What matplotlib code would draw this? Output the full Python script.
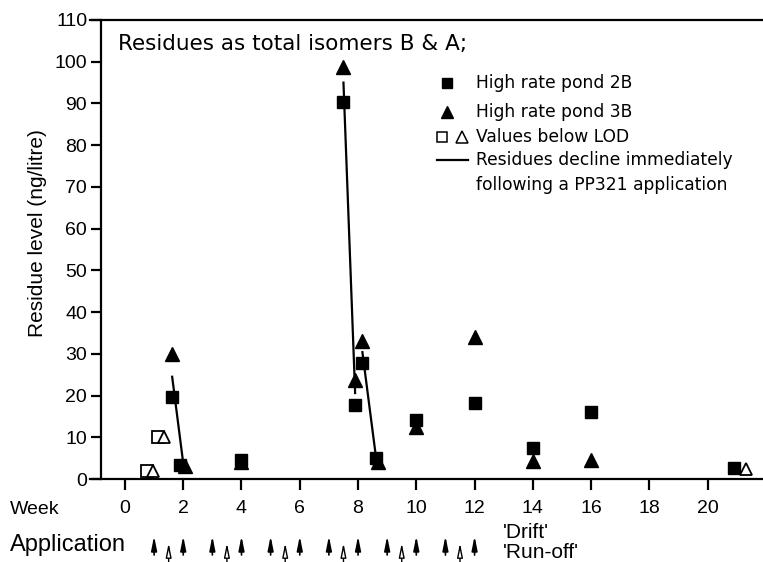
import matplotlib
matplotlib.use('Agg')
import matplotlib.pyplot as plt
from matplotlib.lines import Line2D

plt.rcParams['font.family'] = ['Liberation Sans', 'DejaVu Sans']

# values (week, ng/litre)
pond2b_week = [1.6, 1.9, 4.0, 7.5, 7.9, 8.15, 8.6, 10, 12, 14, 16, 20.9]
pond2b_val = [19.7, 3.4, 4.5, 90.4, 17.7, 27.8, 5.0, 14.1, 18.2, 7.4, 16.0, 2.6]
pond3b_week = [1.6, 2.05, 4.0, 7.5, 7.9, 8.15, 8.7, 10, 12, 14, 16]
pond3b_val = [30.0, 3.0, 4.0, 98.7, 23.7, 33.0, 4.0, 12.5, 34.0, 4.3, 4.5]
lod_sq_week = [0.75, 1.15]
lod_sq_val = [2.0, 10.0]
lod_tri_week = [0.95, 1.35, 21.3]
lod_tri_val = [2.0, 10.0, 2.3]
# declines after application
declines = [
    ([1.62, 2.0], [24.5, 3.8]),
    ([7.5, 7.9], [95.0, 20.6]),
    ([8.15, 8.62], [30.4, 5.0]),
]
drift_weeks = [1, 2, 3, 4, 5, 6, 7, 8, 9, 10, 11, 12]
runoff_weeks = [1.5, 3.5, 5.5, 7.5, 9.5, 11.5]
week_ticks = list(range(0, 21, 2))
level_ticks = list(range(0, 111, 10))

W, H = 763, 562
fig = plt.figure(figsize=(W / 100, H / 100), dpi=100)


def fx(px):
    return px / W


def fy(py):
    return 1 - py / H


ax = fig.add_axes([fx(90), fy(479), fx(763) - fx(90), fy(20) - fy(479)])
ax.set_xlim(-1.2, 21.9)
ax.set_ylim(0, 110)
ax.spines['left'].set_position(('data', -0.82))
ax.spines['right'].set_visible(False)
for s in ['left', 'bottom', 'top']:
    ax.spines[s].set_linewidth(1.6)
ax.set_xticks(week_ticks)
ax.set_yticks(level_ticks)
ax.tick_params(axis='y', length=7, width=1.6, labelsize=14, pad=3)
ax.tick_params(axis='x', length=8, width=1.6, labelsize=14, pad=7)
fig.text(fx(38), fy(233), 'Residue level (ng/litre)', fontsize=15,
         rotation=90, va='center', ha='center')

ms = 9
for xs, ys in declines:
    ax.plot(xs, ys, color='black', lw=1.6)
ax.plot(pond3b_week, pond3b_val, '^', color='black', ms=ms + 1, ls='none')
ax.plot(pond2b_week, pond2b_val, 's', color='black', ms=ms, ls='none')
ax.plot(lod_sq_week, lod_sq_val, 's', mfc='white', mec='black', mew=1.3,
        ms=ms - 1, ls='none')
ax.plot(lod_tri_week, lod_tri_val, '^', mfc='white', mec='black', mew=1.3,
        ms=ms - 1, ls='none')

# note and legend
wide = ['DejaVu Sans']
fig.text(fx(118), fy(44), 'Residues as total isomers B & A;', fontsize=15.5,
         va='center', ha='left', family=wide)
lfs = 12.3
rows = [(83, 'High rate pond 2B'), (112, 'High rate pond 3B'),
        (137, 'Values below LOD'), (160, 'Residues decline immediately'),
        (185, 'following a PP321 application')]
for py, txt in rows:
    fig.text(fx(476), fy(py), txt, fontsize=lfs, va='center', ha='left',
             family=wide)
fig.add_artist(Line2D([fx(447)], [fy(83)], marker='s', color='black', ms=7.5))
fig.add_artist(Line2D([fx(447)], [fy(112)], marker='^', color='black', ms=8))
fig.add_artist(Line2D([fx(442)], [fy(137)], marker='s', mfc='white',
                      mec='black', mew=1.1, ms=7.5))
fig.add_artist(Line2D([fx(462)], [fy(137)], marker='^', mfc='white',
                      mec='black', mew=1.1, ms=8))
fig.add_artist(Line2D([fx(437), fx(468)], [fy(160), fy(160)], color='black',
                      lw=1.6))

# row labels below axis
fig.text(fx(10), fy(510), 'Week', fontsize=14, va='center', ha='left')
fig.text(fx(10), fy(545), 'Application', fontsize=17, va='center', ha='left')
fig.text(fx(503), fy(533), "'Drift'", fontsize=15, va='center', ha='left')
fig.text(fx(503), fy(552), "'Run-off'", fontsize=15, va='center', ha='left')

arrow = '-|>,head_length=0.7,head_width=0.14'
for w in drift_weeks:
    ax.annotate('', xy=(w, fy(536)), xytext=(w, fy(555)),
                xycoords=('data', 'figure fraction'),
                textcoords=('data', 'figure fraction'),
                arrowprops=dict(arrowstyle=arrow, fc='black', ec='black',
                                lw=1.2, shrinkA=0, shrinkB=0,
                                mutation_scale=12),
                annotation_clip=False)
for w in runoff_weeks:
    ax.annotate('', xy=(w, fy(543)), xytext=(w, fy(563)),
                xycoords=('data', 'figure fraction'),
                textcoords=('data', 'figure fraction'),
                arrowprops=dict(arrowstyle=arrow, fc='white', ec='black',
                                lw=1.0, shrinkA=0, shrinkB=0,
                                mutation_scale=12),
                annotation_clip=False)

fig.savefig('out.png', dpi=100)
